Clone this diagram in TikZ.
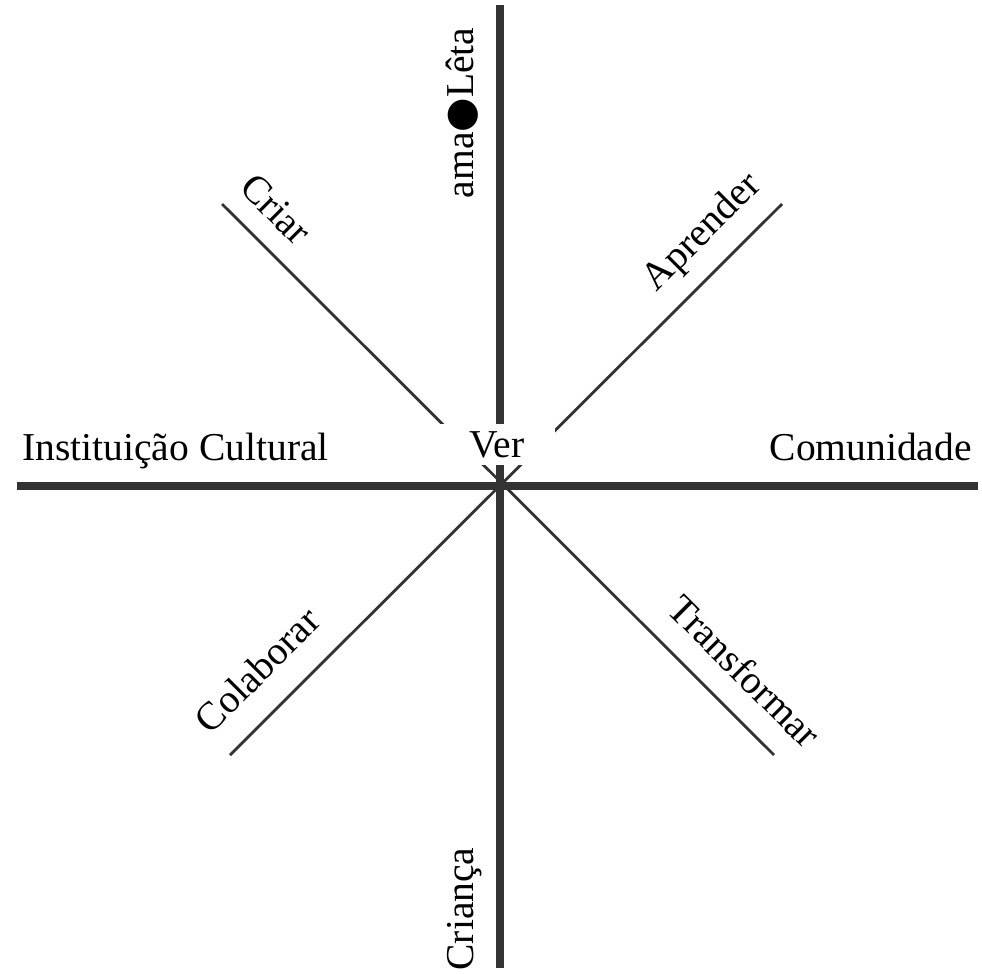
\documentclass[tikz,border=0pt]{standalone}
\usepackage{fontspec}
\setmainfont{Liberation Serif}
\newfontfamily\dotfont{DejaVu Sans}
\usetikzlibrary{positioning}
\definecolor{linegray}{HTML}{333333}
\tikzset{axis/.style={line width=5pt,color=linegray},
  diag/.style={line width=1.6pt,color=linegray},
  lbl/.style={font=\fontsize{22.5}{27}\selectfont,inner sep=0pt}}

\begin{document}
\begin{tikzpicture}[x=0.02cm,y=-0.02cm]
\useasboundingbox (0,0) rectangle (982,973);
% axes
\coordinate (top) at (500,5);
\coordinate (bottom) at (500,968);
\coordinate (left) at (17,486);
\coordinate (right) at (978,486);
\draw[axis] (top) -- (bottom);
\draw[axis] (left) -- (right);
% diagonals
\coordinate (ul) at (222,204);
\coordinate (lr) at (774,755);
\coordinate (ur) at (782,204);
\coordinate (ll) at (230,755);
\draw[diag] (ul) -- (lr);
\draw[diag] (ur) -- (ll);
% centre
\node[lbl,fill=white,minimum width=2.3cm,minimum height=0.82cm] (ver) at (497,444.5) {Ver};
% labels
\node[lbl,anchor=base west] (inst) at (22,460) {Instituição Cultural};
\node[lbl,anchor=base east] (comu) at (972,460) {Comunidade};
\node[lbl,anchor=base,rotate=90] (ama) at (473,113) {ama{\dotfont ●}Lêta};
\node[lbl,anchor=base,rotate=90] (crianca) at (473,909) {Criança};
\node[lbl,rotate=-45] (criar) at (276,209) {Criar};
\node[lbl,rotate=45] (apre) at (703,233) {Aprender};
\node[lbl,rotate=45] (cola) at (257,670) {Colaborar};
\node[lbl,rotate=-45] (trans) at (745,671) {Transformar};
\end{tikzpicture}
\end{document}
